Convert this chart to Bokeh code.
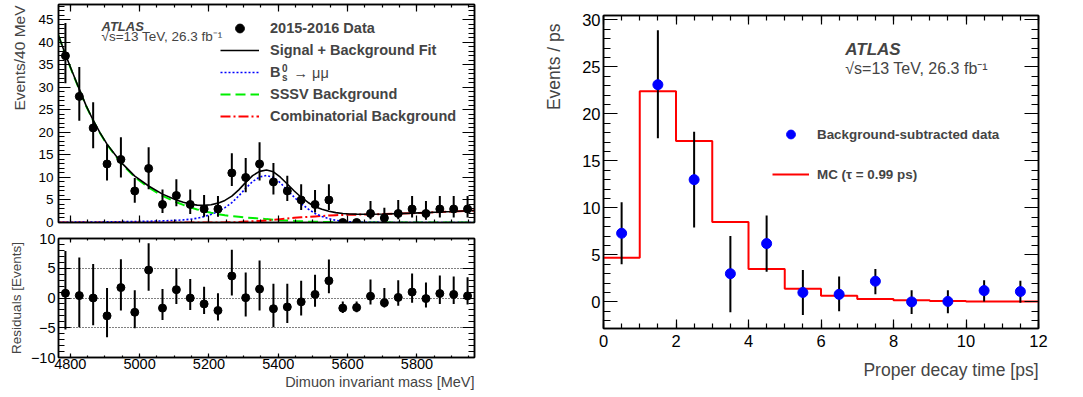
from bokeh.plotting import figure
from bokeh.layouts import row, column
from bokeh.models import (ColumnDataSource, Range1d, LinearAxis, SingleIntervalTicker, FixedTicker,
                          CustomJSTickFormatter, Title, Label, Legend, LegendItem)
from bokeh.embed import file_html
from bokeh.resources import INLINE

FONT = "Liberation Sans"

# ---------------- left panel data: dimuon invariant mass ----------------
mass_centers = [4786, 4826, 4866, 4906, 4946, 4986, 5026, 5066, 5106, 5146,
                5186, 5226, 5266, 5306, 5346, 5386, 5426, 5466, 5506, 5546,
                5586, 5626, 5666, 5706, 5746, 5786, 5826, 5866, 5906, 5946]
counts = [37, 28, 21, 13, 14, 7, 12, 4, 6, 4,
          3, 3, 11, 10, 13, 9, 7, 5, 4, 5,
          0, 0, 2, 1, 2, 3, 2, 3, 3, 3]
count_lo = [30.9, 22.6, 16.5, 9.3, 10.0, 4.4, 7.4, 2.1, 3.6, 1.9,
            1.3, 1.3, 8.1, 6.7, 9.3, 6.2, 4.8, 2.8, 2.2, 2.8,
            0, 0, 0.7, 0.4, 0.7, 1.1, 0.6, 1.1, 1.1, 1.1]
count_hi = [44.3, 34.5, 26.7, 17.4, 18.9, 9.9, 16.7, 7.3, 9.6, 7.3,
            6.1, 5.9, 15.4, 14.3, 17.8, 13.2, 10.4, 8.5, 7.2, 8.5,
            0, 0, 4.8, 3.3, 5.0, 5.9, 4.8, 5.9, 5.9, 5.9]

residuals = [0.8, 0.4, 0.0, -3.0, 1.75, -2.4, 4.7, -1.7, 1.4, 0.0,
             -1.0, -2.1, 3.7, 0.05, 1.5, -1.8, -1.5, -0.65, 0.6, 2.9,
             -1.7, -1.6, 0.3, -0.8, 0.1, 1.0, -0.1, 0.75, 0.6, 0.35]
res_lo = [-5.3, -4.9, -4.6, -6.6, -2.1, -5.1, 1.2, -3.7, -1.0, -2.0,
          -2.7, -3.8, 0.4, -3.1, -2.1, -4.9, -4.2, -2.95, -1.45, 0.8,
          -2.5, -2.4, -1.1, -1.6, -1.3, -0.8, -1.6, -1.0, -1.0, -1.1]
res_hi = [7.9, 6.8, 5.7, 1.7, 6.5, 1.3, 9.2, 1.5, 5.0, 3.2,
          1.9, 0.8, 8.1, 4.3, 6.3, 2.4, 2.4, 2.9, 3.9, 6.45,
          -0.6, -0.6, 3.1, 1.7, 3.0, 4.1, 2.6, 3.8, 3.6, 3.5]

curve_mass = [4766, 4786, 4806, 4826, 4846, 4866, 4886, 4906, 4946, 4986,
              5026, 5066, 5106, 5126, 5146, 5166, 5186, 5206, 5226, 5246,
              5266, 5286, 5306, 5326, 5346, 5366, 5386, 5406, 5426, 5446,
              5466, 5486, 5506, 5526, 5546, 5566, 5586, 5606, 5626, 5666,
              5706, 5746, 5786, 5826, 5866, 5906, 5946, 5966]
fit_total = [41.5, 37.3, 33.4, 29.6, 25.9, 22.7, 19.9, 17.4, 13.4, 10.3,
             8.1, 6.3, 5.0, 4.5, 4.1, 3.85, 3.8, 3.95, 4.3, 4.9,
             5.85, 7.25, 8.9, 10.4, 11.35, 11.65, 11.25, 10.05, 8.55, 7.0,
             5.6, 4.45, 3.5, 2.95, 2.5, 2.2, 2.0, 1.9, 1.85, 1.84,
             1.89, 1.98, 2.08, 2.2, 2.32, 2.45, 2.6, 2.66]
fit_signal = [0.05, 0.06, 0.07, 0.08, 0.09, 0.1, 0.12, 0.14, 0.18, 0.22,
              0.28, 0.36, 0.48, 0.58, 0.72, 0.95, 1.3, 1.8, 2.4, 3.3,
              4.4, 5.9, 7.6, 9.1, 10.1, 10.45, 10.0, 8.8, 7.2, 5.6,
              4.2, 3.0, 2.0, 1.35, 0.85, 0.5, 0.28, 0.15, 0.08, 0.03,
              0.01, 0.01, 0.01, 0.01, 0.01, 0.01, 0.01, 0.01]
fit_sssv = [41.5, 37.2, 33.3, 29.5, 25.8, 22.6, 19.8, 17.3, 13.2, 10.1,
            7.8, 5.9, 4.5, 3.9, 3.35, 2.9, 2.5, 2.15, 1.85, 1.6,
            1.4, 1.25, 1.1, 1.0, 0.88, 0.75, 0.63, 0.52, 0.43, 0.35,
            0.28, 0.22, 0.17, 0.13, 0.1, 0.07, 0.05, 0.03, 0.02, 0.01,
            0, 0, 0, 0, 0, 0, 0, 0]
fit_comb = [0, 0, 0, 0, 0, 0, 0, 0, 0, 0,
            0, 0, 0, 0, 0, 0, 0, 0, 0.02, 0.03,
            0.05, 0.1, 0.2, 0.28, 0.35, 0.45, 0.6, 0.75, 0.9, 1.05,
            1.15, 1.25, 1.35, 1.45, 1.55, 1.62, 1.68, 1.72, 1.75, 1.8,
            1.88, 1.97, 2.07, 2.19, 2.31, 2.44, 2.59, 2.65]

# ---------------- right panel data: proper decay time ----------------
time_centers = [0.5, 1.5, 2.5, 3.5, 4.5, 5.5, 6.5, 7.5, 8.5, 9.5, 10.5, 11.5]
time_events = [7.3, 23.1, 13.0, 3.0, 6.2, 1.0, 0.8, 2.2, 0.0, 0.05, 1.2, 1.1]
time_lo = [4.0, 17.4, 7.9, -1.1, 3.2, -1.4, -1.0, 0.8, -1.3, -1.2, 0.05, -0.1]
time_hi = [10.6, 28.9, 18.1, 7.0, 9.2, 3.4, 2.7, 3.5, 1.25, 1.25, 2.3, 2.25]
mc_edges = [0, 1, 2, 3, 4, 5, 6, 7, 8, 9, 10, 11, 12]
mc_values = [4.7, 22.4, 17.1, 8.5, 3.5, 1.4, 0.65, 0.3, 0.18, 0.1, 0.04, 0.03]


def style_axis(ax, major, minor, size, standoff=4, hidden=False, formatter=None):
    ax.major_tick_in = int(major)
    ax.major_tick_out = 0
    ax.minor_tick_in = int(minor)
    ax.minor_tick_out = 0
    ax.axis_line_color = "black"
    ax.axis_line_width = 1.5
    ax.major_tick_line_color = "black"
    ax.minor_tick_line_color = "black"
    ax.major_tick_line_width = 1.2
    ax.minor_tick_line_width = 1.2
    ax.major_label_text_font = FONT
    ax.major_label_text_color = "black"
    ax.major_label_text_font_size = f"{size}px"
    ax.major_label_standoff = standoff
    if formatter is not None:
        ax.formatter = formatter
    if hidden:
        ax.formatter = CustomJSTickFormatter(code="return ''")
        ax.major_label_text_font_size = "0px"
        ax.major_label_standoff = 0


def mirror(p, side, interval, nminor, major, minor):
    ax = LinearAxis(ticker=SingleIntervalTicker(interval=interval, num_minor_ticks=nminor))
    style_axis(ax, major, minor, 0, hidden=True)
    p.add_layout(ax, side)


def base(p):
    p.grid.grid_line_color = None
    p.outline_line_color = "black"
    p.outline_line_width = 1.5
    p.background_fill_color = "white"
    p.border_fill_color = "white"


x_rng = Range1d(4766, 5966)

# ---------------- top-left: mass fit ----------------
p1 = figure(frame_width=416, frame_height=218, x_range=x_rng, y_range=Range1d(0, 48.4),
            min_border_left=58, min_border_right=12, min_border_top=4, min_border_bottom=8,
            output_backend="svg", toolbar_location=None, title=None)
base(p1)
p1.xaxis.ticker = SingleIntervalTicker(interval=200, num_minor_ticks=4)
p1.yaxis.ticker = SingleIntervalTicker(interval=5, num_minor_ticks=5)
style_axis(p1.xaxis[0], 7, 3, 0, hidden=True)
style_axis(p1.yaxis[0], 12, 6, 13.5, standoff=5)
mirror(p1, "right", 5, 5, 12, 6)
mirror(p1, "above", 200, 4, 7, 3)
p1.add_layout(Title(text="Events/40 MeV", align="right", text_font=FONT, text_font_size="15.5px",
                    text_font_style="normal", standoff=16, offset=1), "left")

r_sssv = p1.line(curve_mass, fit_sssv, line_color="#00ee00", line_width=2, line_dash="10 5")
r_comb = p1.line(curve_mass, fit_comb, line_color="#ff0000", line_width=2, line_dash="10 3 2 3")
r_sig = p1.line(curve_mass, fit_signal, line_color="#0000ff", line_width=1.6, line_dash="2 2")
r_tot = p1.line(curve_mass, fit_total, line_color="black", line_width=1.6)

src1 = ColumnDataSource(dict(x=mass_centers, y=counts, lo=count_lo, hi=count_hi))
p1.segment(x0="x", y0="lo", x1="x", y1="hi", source=src1, line_color="black", line_width=2)
r_data = p1.scatter("x", "y", source=src1, size=8, color="black")

legend1 = Legend(items=[
    LegendItem(label="2015-2016 Data", renderers=[r_data]),
    LegendItem(label="Signal + Background Fit", renderers=[r_tot]),
    LegendItem(label="B", renderers=[r_sig]),
    LegendItem(label="SSSV Background", renderers=[r_sssv]),
    LegendItem(label="Combinatorial Background", renderers=[r_comb])],
    location=(162, 95), glyph_width=39, glyph_height=22, label_height=22, label_standoff=11,
    spacing=0, padding=0, margin=0, border_line_color=None, background_fill_alpha=0,
    label_text_font=FONT, label_text_font_size="14.5px", label_text_font_style="bold")
p1.add_layout(legend1)

p1.add_layout(Label(x=5411, y=34.4, text="0", text_font=FONT, text_font_size="10px",
                    text_font_style="bold", text_baseline="middle"))
p1.add_layout(Label(x=5411, y=32.2, text="s", text_font=FONT, text_font_size="10px",
                    text_font_style="bold", text_baseline="middle"))
p1.add_layout(Label(x=5444, y=33.2, text="\u2192 \u03bc\u03bc", text_font=FONT, text_font_size="14.5px",
                    text_baseline="middle"))
p1.add_layout(Label(x=4890, y=43.6, text="ATLAS", text_font=FONT, text_font_size="13px",
                    text_font_style="bold italic", text_baseline="middle"))
p1.add_layout(Label(x=4890, y=41.3, text="\u221as=13 TeV, 26.3 fb\u207b\u00b9", text_font=FONT,
                    text_font_size="13.5px", text_baseline="middle"))

# ---------------- bottom-left: residuals ----------------
p2 = figure(frame_width=416, frame_height=119, x_range=x_rng, y_range=Range1d(-10, 10),
            min_border_left=58, min_border_right=12, min_border_top=8, min_border_bottom=40,
            output_backend="svg", toolbar_location=None, title=None)
base(p2)
p2.xaxis.ticker = SingleIntervalTicker(interval=200, num_minor_ticks=4)
p2.yaxis.ticker = SingleIntervalTicker(interval=5, num_minor_ticks=5)
minus_fmt = CustomJSTickFormatter(code="return tick < 0 ? '\\u2212' + (-tick) : '' + tick")
style_axis(p2.xaxis[0], 4, 2, 14.5, standoff=1)
style_axis(p2.yaxis[0], 12, 6, 14.5, standoff=3, formatter=minus_fmt)
mirror(p2, "right", 5, 5, 12, 6)
mirror(p2, "above", 200, 4, 4, 2)
p2.ygrid.ticker = FixedTicker(ticks=[-5, 0, 5])
p2.ygrid.grid_line_color = "black"
p2.ygrid.grid_line_dash = "1 2"
p2.ygrid.grid_line_width = 1
p2.add_layout(Title(text="Residuals [Events]", align="center", text_font=FONT, text_font_size="13.5px",
                    text_font_style="normal", standoff=7, offset=7), "left")
p2.add_layout(Title(text="Dimuon invariant mass [MeV]", align="right", text_font=FONT,
                    text_font_size="14.5px", text_font_style="normal", standoff=0), "below")
src2 = ColumnDataSource(dict(x=mass_centers, y=residuals, lo=res_lo, hi=res_hi))
p2.segment(x0="x", y0="lo", x1="x", y1="hi", source=src2, line_color="black", line_width=2)
p2.scatter("x", "y", source=src2, size=8, color="black")

# ---------------- right: proper decay time ----------------
p3 = figure(frame_width=435, frame_height=313, x_range=Range1d(0, 12), y_range=Range1d(-2.83, 30.46),
            min_border_left=117, min_border_right=10, min_border_top=15, min_border_bottom=64,
            output_backend="svg", toolbar_location=None, title=None)
base(p3)
p3.xaxis.ticker = SingleIntervalTicker(interval=2, num_minor_ticks=4)
p3.yaxis.ticker = SingleIntervalTicker(interval=5, num_minor_ticks=5)
style_axis(p3.xaxis[0], 9, 5, 16.5, standoff=6)
style_axis(p3.yaxis[0], 14, 7, 16.5, standoff=3)
mirror(p3, "right", 5, 5, 14, 7)
mirror(p3, "above", 2, 4, 9, 5)
p3.add_layout(Title(text="Events / ps", align="right", text_font=FONT, text_font_size="17.5px",
                    text_font_style="normal", standoff=31, offset=8), "left")
p3.add_layout(Title(text="Proper decay time [ps]", align="right", text_font=FONT, text_font_size="17.5px",
                    text_font_style="normal", standoff=16), "below")

r_mc = p3.step(mc_edges, mc_values + [mc_values[-1]], mode="after", line_color="#ff0000", line_width=2)
src3 = ColumnDataSource(dict(x=time_centers, y=time_events, lo=time_lo, hi=time_hi))
p3.segment(x0="x", y0="lo", x1="x", y1="hi", source=src3, line_color="black", line_width=2)
r_pts = p3.scatter("x", "y", source=src3, size=10, color="#0000ff")

legend3 = Legend(items=[
    LegendItem(label="Background-subtracted data", renderers=[r_pts]),
    LegendItem(label="MC (\u03c4 = 0.99 ps)", renderers=[r_mc])],
    location=(169, 143), glyph_width=37, glyph_height=22, label_height=22, label_standoff=8,
    spacing=18, padding=0, margin=0, border_line_color=None, background_fill_alpha=0,
    label_text_font=FONT, label_text_font_size="13.4px", label_text_font_style="bold")
p3.add_layout(legend3)

p3.add_layout(Label(x=6.67, y=26.85, text="ATLAS", text_font=FONT, text_font_size="17px",
                    text_font_style="bold italic", text_baseline="middle"))
p3.add_layout(Label(x=6.67, y=24.8, text="\u221as=13 TeV, 26.3 fb\u207b\u00b9", text_font=FONT,
                    text_font_size="16px", text_baseline="middle"))

layout = row(column(p1, p2), p3)
open("out.html", "w").write(file_html(layout, INLINE))
